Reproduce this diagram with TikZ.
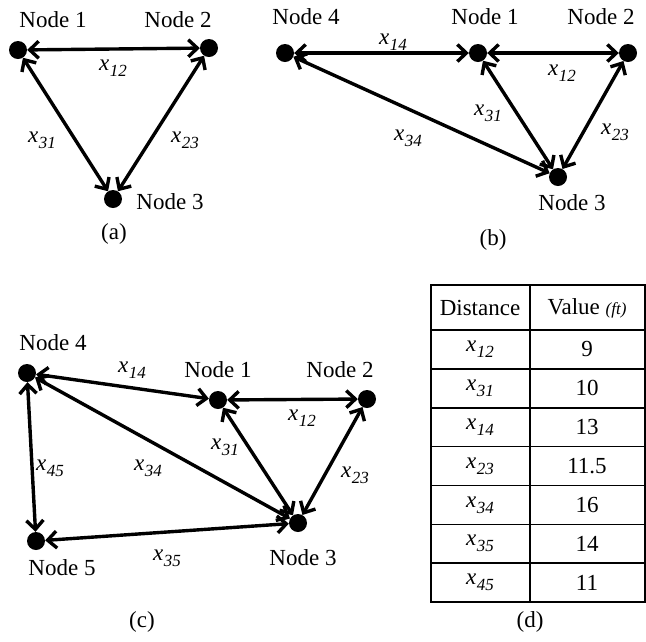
\documentclass[tikz,border=0pt]{standalone}
\usepackage{fontspec}
\setmainfont{Liberation Serif}
\usetikzlibrary{arrows.meta}
\newcommand{\distLbl}[1]{\textit{x}\kern0.5pt\raisebox{-6pt}{\fontsize{17}{17}\selectfont\textit{#1}}}
\tikzset{
  dotN/.style={circle, fill=black, inner sep=0pt, minimum size=18pt},
  arrowB/.style={{Straight Barb[length=9pt,width=17pt]}-{Straight Barb[length=9pt,width=17pt]},
                 line width=3.4pt},
  lblNode/.style={font={\fontsize{23}{27}\selectfont}, inner sep=0pt},
  lblDist/.style={font={\fontsize{23}{27}\selectfont}, inner sep=0pt},
  tableLine/.style={line width=1.6pt},
}
\begin{document}
\begin{tikzpicture}[x=1pt, y=-1pt]
    \useasboundingbox (0,0) rectangle (646,641);
    % (a) three nodes
    \node[dotN] (a1) at (18,50) {};
    \node[dotN] (a2) at (209,48) {};
    \node[dotN] (a3) at (113,199) {};
    \node[lblNode] (a1t) at (53,20) {Node 1};
    \node[lblNode] (a2t) at (178,20) {Node 2};
    \node[lblNode] (a3t) at (170,202) {Node 3};
    \draw[arrowB] (a1) -- (a2); \draw[arrowB] (a1) -- (a3); \draw[arrowB] (a2) -- (a3);
    \node[lblDist] (a12) at (113,68) {\distLbl{12}};
    \node[lblDist] (a31) at (42,140) {\distLbl{31}};
    \node[lblDist] (a23) at (185,140) {\distLbl{23}};
    \node[lblNode] (capA) at (114,234) {(a)};
    % (b) four nodes
    \node[dotN] (b4) at (285,53) {};
    \node[dotN] (b1) at (478,53) {};
    \node[dotN] (b2) at (628,53) {};
    \node[dotN] (b3) at (558,177) {};
    \node[lblNode] (b4t) at (306,17) {Node 4};
    \node[lblNode] (b1t) at (485,17) {Node 1};
    \node[lblNode] (b2t) at (601,17) {Node 2};
    \node[lblNode] (b3t) at (572,203) {Node 3};
    \draw[arrowB] (b4) -- (b1); \draw[arrowB] (b1) -- (b2); \draw[arrowB] (b1) -- (b3);
    \draw[arrowB] (b2) -- (b3); \draw[arrowB] (b4) -- (b3);
    \node[lblDist] (b14) at (393,42) {\distLbl{14}};
    \node[lblDist] (b12) at (562,73) {\distLbl{12}};
    \node[lblDist] (b31) at (488,113) {\distLbl{31}};
    \node[lblDist] (b23) at (615,132) {\distLbl{23}};
    \node[lblDist] (b34) at (408,138) {\distLbl{34}};
    \node[lblNode] (capB) at (493,240) {(b)};
    % (c) five nodes
    \node[dotN] (c4) at (27,373) {};
    \node[dotN] (c1) at (218,400) {};
    \node[dotN] (c2) at (367,399) {};
    \node[dotN] (c3) at (298,523) {};
    \node[dotN] (c5) at (36,541) {};
    \node[lblNode] (c4t) at (53,343) {Node 4};
    \node[lblNode] (c1t) at (218,370) {Node 1};
    \node[lblNode] (c2t) at (340,370) {Node 2};
    \node[lblNode] (c3t) at (303,558) {Node 3};
    \node[lblNode] (c5t) at (62,568) {Node 5};
    \draw[arrowB] (c4) -- (c1); \draw[arrowB] (c1) -- (c2); \draw[arrowB] (c1) -- (c3);
    \draw[arrowB] (c2) -- (c3); \draw[arrowB] (c4) -- (c3); \draw[arrowB] (c4) -- (c5);
    \draw[arrowB] (c5) -- (c3);
    \node[lblDist] (c14) at (132,370) {\distLbl{14}};
    \node[lblDist] (c12) at (302,418) {\distLbl{12}};
    \node[lblDist] (c31) at (225,447) {\distLbl{31}};
    \node[lblDist] (c23) at (355,475) {\distLbl{23}};
    \node[lblDist] (c34) at (148,468) {\distLbl{34}};
    \node[lblDist] (c45) at (50,468) {\distLbl{45}};
    \node[lblDist] (c35) at (167,558) {\distLbl{35}};
    \node[lblNode] (capC) at (142,622) {(c)};
    % (d) table of distances
    \draw[tableLine] (431,285) rectangle (645,602);
    \draw[tableLine] (530,285) -- (530,602);
    \draw[tableLine] (431,330) -- (645,330);
    \node[lblNode] (hDist) at (480,308) {Distance};
    \node[lblNode] (hVal) at (587,308) {Value {\fontsize{17}{20}\selectfont\itshape(ft)}};
    \foreach \d/\v [count=\i] in {12/9, 31/10, 14/13, 23/11.5, 34/16, 35/14, 45/11} {
      \node[lblDist] (dist\i) at (480,{330+(\i-0.5)*38.86}) {\distLbl{\d}};
      \node[lblNode] (val\i) at (587,{330+(\i-0.5)*38.86}) {\v};
      \ifnum\i<7 \draw[tableLine] (431,{330+\i*38.86}) -- (645,{330+\i*38.86}); \fi
    }
    \node[lblNode] (capD) at (530,622) {(d)};
\end{tikzpicture}
\end{document}
